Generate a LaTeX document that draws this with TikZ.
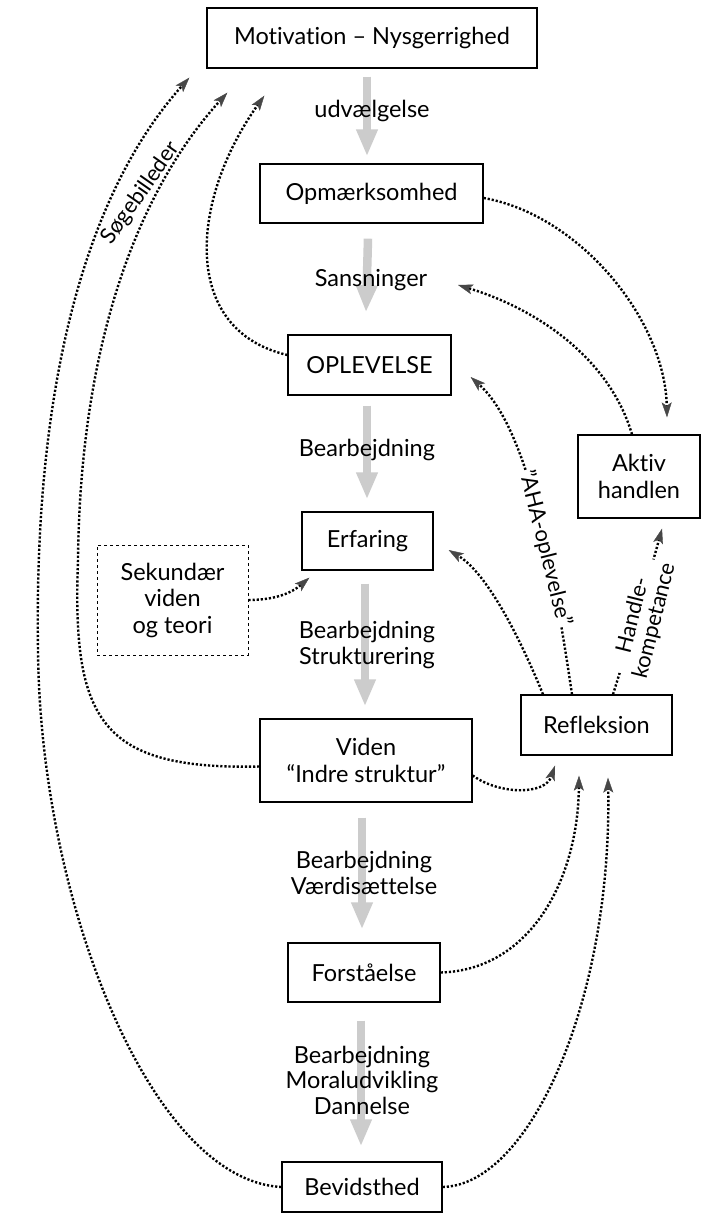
\documentclass[tikz,border=0pt]{standalone}
\usepackage{fontspec}
\setmainfont{Lato}[Ligatures={NoCommon}]
\usetikzlibrary{arrows.meta}
\begin{document}
\begin{tikzpicture}[x=1pt,y=-1pt,
  box/.style={draw, line width=1.3pt, inner sep=0pt, align=center, font=\fontsize{23.5}{26.5}\selectfont},
  lbl/.style={align=center, font=\fontsize{23.5}{25.5}\selectfont, inner sep=1pt},
  flow/.style={line width=8.5pt, draw=black!20, -{Triangle[length=27pt,width=20pt]}},
  dotarrow/.style={line width=2.4pt, dash pattern=on 2.2pt off 1.9pt, -{Stealth[length=15pt,width=10pt,inset=3.5pt,line width=0.4pt,color=black!72]}}
]
\fill[white] (0,0) rectangle (702,1216);
\useasboundingbox (0,0) rectangle (702,1216);

% boxes
\node[box, minimum width=330pt, minimum height=60pt] (mot) at (372,38) {Motivation – Nysgerrighed};
\node[box, minimum width=223pt, minimum height=59pt] (opm) at (371.5,193.5) {Opmærksomhed};
\node[box, minimum width=163pt, minimum height=60pt] (opl) at (369.5,365) {OPLEVELSE};
\node[box, minimum width=131pt, minimum height=58pt] (erf) at (367.5,541) {Erfaring};
\node[box, dashed, line width=0.9pt, minimum width=151pt, minimum height=110pt] (sek) at (172.5,600) {Sekundær\\viden\\og teori};
\node[box, minimum width=212pt, minimum height=83pt] (vid) at (366,760.5) {Viden\\“Indre struktur”};
\node[box, minimum width=151pt, minimum height=60pt] (ref) at (596.5,725) {Refleksion};
\node[box, minimum width=122pt, minimum height=83pt] (akt) at (639,476.5) {Aktiv\\handlen};
\node[box, minimum width=152pt, minimum height=59pt] (for) at (364,972.5) {Forståelse};
\node[box, minimum width=160pt, minimum height=50pt] (bev) at (362,1187) {Bevidsthed};

% grey flow arrows
\draw[flow] ([xshift=-5pt,yshift=-8pt]mot.south) -- ([xshift=-4.5pt,yshift=7pt]opm.north);
\draw[flow] ([xshift=-3.5pt,yshift=-15pt]opm.south) -- ([xshift=-3.5pt,yshift=22pt]opl.north);
\draw[flow] ([xshift=-2.5pt,yshift=-10pt]opl.south) -- ([xshift=-0.5pt,yshift=12pt]erf.north);
\draw[flow] ([xshift=-2.5pt,yshift=-13pt]erf.south) -- ([xshift=-1pt,yshift=12pt]vid.north);
\draw[flow] ([xshift=-4pt,yshift=-15pt]vid.south) -- ([xshift=-2pt,yshift=13pt]for.north);
\draw[flow] ([xshift=-3pt,yshift=-18pt]for.south) -- ([xshift=-1pt,yshift=15pt]bev.north);

% labels on flow
\node[lbl] (l1) at (372,111) {udvælgelse};
\node[lbl] (l2) at (371,280) {Sansninger};
\node[lbl] (l3) at (367,450) {Bearbejdning};
\node[lbl] (l4) at (367,645) {Bearbejdning\\Strukturering};
\node[lbl] (l5) at (364,873) {Bearbejdning\\Værdisættelse};
\node[lbl] (l6) at (362,1080) {Bearbejdning\\Moraludvikling\\Dannelse};

\coordinate (sansR) at (458,285);

% dotted connectors
\draw[dotarrow] ([yshift=-4.5pt]opm.east) .. controls (580,215) and (665,320) .. ([xshift=28pt,yshift=17pt]akt.north);
\draw[dotarrow] ([xshift=-7pt]akt.north) .. controls (610,360) and (540,310) .. (sansR);
\draw[dotarrow] ([yshift=10pt]opl.west) .. controls (180,330) and (190,200) .. ([xshift=58pt,yshift=-27pt]mot.south west);
\draw[dotarrow] ([yshift=-6pt]vid.west) .. controls (100,770) and (72,720) .. (78,560) .. controls (80,360) and (130,200) .. ([xshift=21pt,yshift=-24pt]mot.south west);
\draw[dotarrow] (bev.west) .. controls (150,1180) and (40,900) .. (38,650) .. controls (34,400) and (80,200) .. ([xshift=-17pt,yshift=-9pt]mot.south west);
\node[lbl, rotate=55, font=\fontsize{22}{24}\selectfont] (sog) at (141,193) {Søgebilleder};

\draw[dotarrow] ([yshift=-15pt]vid.east) .. controls (500,795) and (545,795) .. ([xshift=-41.5pt,yshift=-10pt]ref.south);
\draw[dotarrow] (for.east) .. controls (530,970) and (578,880) .. ([xshift=-17.5pt,yshift=-20pt]ref.south);
\draw[dotarrow] (bev.east) .. controls (530,1185) and (612,1000) .. ([xshift=11.5pt,yshift=-22pt]ref.south);
\draw[dotarrow] (sek.east) .. controls (280,600) and (295,590) .. ([xshift=8pt,yshift=-7pt]erf.south west);
\draw[dotarrow] ([xshift=-53.5pt]ref.north) .. controls (525,650) and (490,575) .. ([xshift=15pt,yshift=-9pt]erf.east);
\draw[dotarrow] ([xshift=-24.5pt]ref.north) .. controls (555,580) and (530,430) .. ([xshift=19pt,yshift=-12pt]opl.east);
\node[lbl, rotate=-76, fill=white, inner sep=0pt, font=\fontsize{22}{24}\selectfont] (aha) at (545,548) {"AHA-oplevelse"};
\draw[dotarrow] ([xshift=16.5pt]ref.north) .. controls (630,640) and (648,580) .. ([xshift=23pt,yshift=-10pt]akt.south);
\node[lbl, rotate=76, fill=white, inner sep=0pt, font=\fontsize{22}{22}\selectfont] (hk) at (644,618) {Handle-\\kompetance};
\end{tikzpicture}
\end{document}
